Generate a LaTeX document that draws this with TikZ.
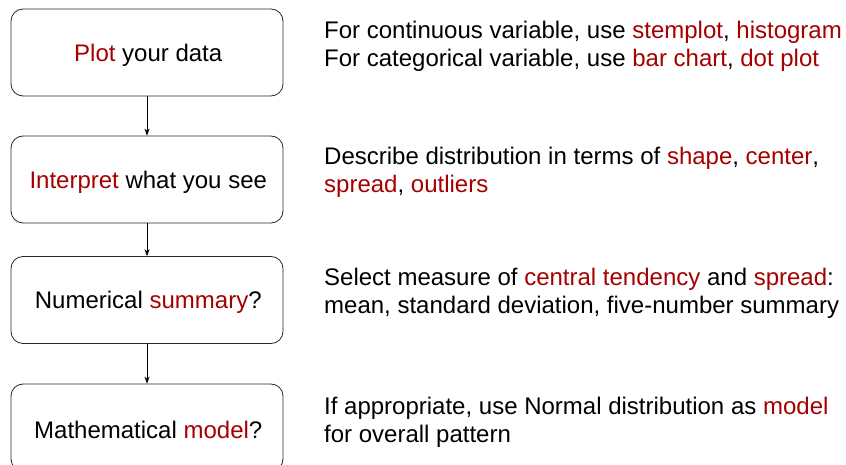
\documentclass[tikz,border=0pt]{standalone}
\usepackage{fontspec}
\setmainfont{Liberation Sans}
\usetikzlibrary{arrows.meta}
\definecolor{hl}{RGB}{165,0,0}
\newcommand{\hi}[1]{\textcolor{hl}{#1}}
\newcommand{\bx}[1]{\hspace*{2.5pt}\raisebox{-2.5pt}[\height][\depth]{#1}}
\begin{document}
\begin{tikzpicture}[x=1pt,y=-1pt,
  stepbox/.style={draw=black!85,line width=0.8pt,rounded corners=12pt,minimum width=272pt,minimum height=87pt,font=\fontsize{24}{28}\selectfont,inner sep=0pt},
  desc/.style={anchor=west,align=left,font=\fontsize{24}{28}\selectfont,inner sep=0pt},
  conn/.style={-{Stealth[length=7pt,width=5pt]},line width=0.6pt}]
\useasboundingbox (0,0) rectangle (846,465);
\node[stepbox] (b1) at (147,52.5) {\bx{\hi{Plot} your data}};
\node[stepbox] (b2) at (147,179.5) {\bx{\hi{Interpret} what you see}};
\node[stepbox] (b3) at (147,300) {\bx{Numerical \hi{summary}?}};
\node[stepbox] (b4) at (147,427.5) {\bx{Mathematical \hi{model}?}};
\draw[conn] (b1) -- (b2);
\draw[conn] (b2) -- (b3);
\draw[conn] (b3) -- (b4);
\node[desc] (d1) at (324,46.5) {For continuous variable, use \hi{stemplot}, \hi{histogram}\\For categorical variable, use \hi{bar chart}, \hi{dot plot}};
\node[desc] (d2) at (324,172.5) {Describe distribution in terms of \hi{shape}, \hi{center},\\\hi{spread}, \hi{outliers}};
\node[desc] (d3) at (324,293.5) {Select measure of \hi{central tendency} and \hi{spread}:\\mean, standard deviation, five-number summary};
\node[desc] (d4) at (324,422.5) {If appropriate, use Normal distribution as \hi{model}\\for overall pattern};
\end{tikzpicture}
\end{document}
